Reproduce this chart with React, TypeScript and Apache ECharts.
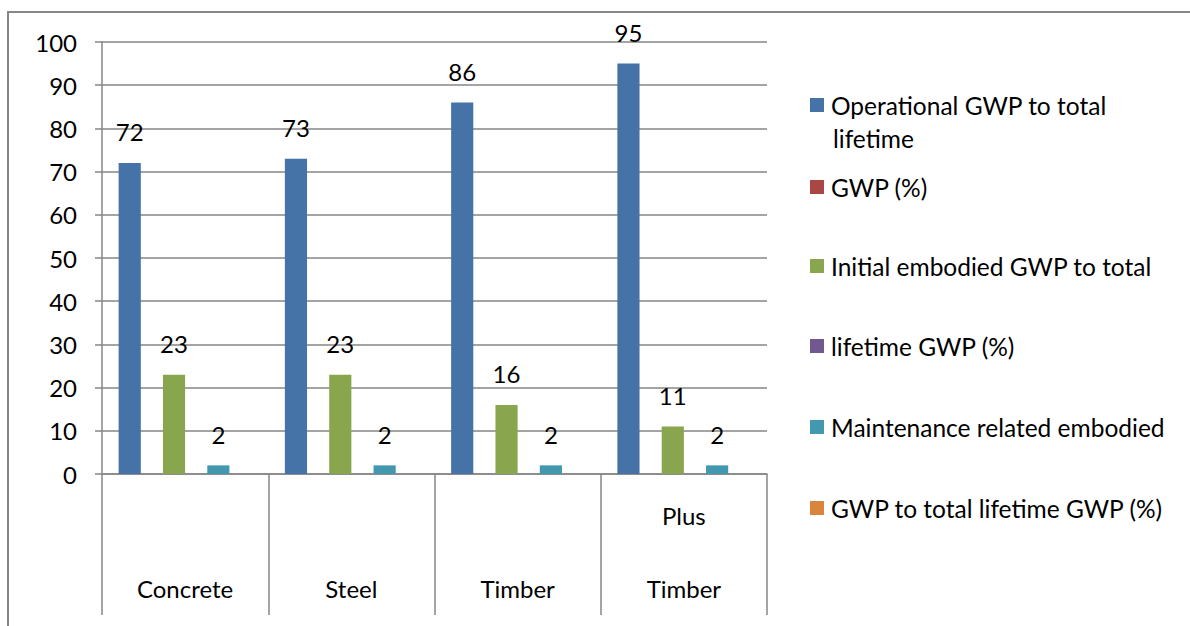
import React, { useEffect, useRef } from "react";
import * as echarts from "echarts";

const topLabels = ["", "", "", "Plus"];
const bottomLabels = ["Concrete", "Steel", "Timber", "Timber"];
const categories = topLabels.map((t, i) => t + "\n" + bottomLabels[i]);

const seriesNames = [
  "Operational GWP to total lifetime",
  "GWP (%)",
  "Initial embodied GWP to total",
  "lifetime GWP (%)",
  "Maintenance related embodied",
  "GWP to total lifetime GWP (%)",
];
const operational = [72, 73, 86, 95];
const gwpPct = [null, null, null, null];
const initialEmbodied = [23, 23, 16, 11];
const lifetimePct = [null, null, null, null];
const maintenance = [2, 2, 2, 2];
const gwpTotalPct = [null, null, null, null];
const seriesValues = [operational, gwpPct, initialEmbodied, lifetimePct, maintenance, gwpTotalPct];
const colors = ["#4572A7", "#AA4643", "#89A54E", "#71588F", "#4198AF", "#DB843D"];
const yTicks = [0, 10, 20, 30, 40, 50, 60, 70, 80, 90, 100];

const FONT = "Lato";
const FS = 24;
const LFS = 24.5;
const GRAY = "#868686";
const legendCenters = [105, 187, 266, 346, 427, 508];

export default function App() {
  const ref = useRef<HTMLDivElement>(null);
  useEffect(() => {
    const chart = echarts.init(ref.current!, null, { renderer: "svg" });
    const legends = seriesNames.map((n, i) => ({
      orient: "vertical",
      left: 810,
      top: legendCenters[i] - 14,
      padding: 0,
      itemWidth: 14,
      itemHeight: 14,
      icon: "rect",
      selectedMode: false,
      data: [n],
      formatter: (name: string) => (name === seriesNames[0] ? "Operational GWP to total" : name),
      textStyle: { fontFamily: FONT, fontSize: LFS, color: "#000", lineHeight: 28, padding: [0, 0, 0, 2] },
    }));
    chart.setOption({
      animation: false,
      textStyle: { fontFamily: FONT },
      color: colors,
      grid: { left: 102, right: 423, top: 42, bottom: 152, containLabel: false },
      legend: legends,
      graphic: [
        {
          type: "rect",
          shape: { x: 8, y: 12, width: 1300, height: 800 },
          style: { fill: "none", stroke: GRAY, lineWidth: 2 },
          silent: true,
        },
        {
          type: "text",
          left: 833,
          top: 138 - 14,
          style: { text: "lifetime", font: `${LFS}px ${FONT}`, fill: "#000", lineHeight: 28 },
        },
      ],
      xAxis: {
        type: "category",
        data: categories,
        boundaryGap: true,
        axisLine: { show: true, lineStyle: { color: GRAY, width: 1.5 } },
        axisTick: { show: true, length: 141, lineStyle: { color: GRAY, width: 1.5 } },
        axisLabel: {
          color: "#000",
          fontFamily: FONT,
          fontSize: FS,
          lineHeight: 73,
          margin: 5,
          interval: 0,
        },
      },
      yAxis: {
        type: "value",
        min: 0,
        max: 100,
        interval: 10,
        axisLine: { show: true, lineStyle: { color: GRAY, width: 1.5 } },
        axisTick: { show: true, length: 7, lineStyle: { color: GRAY, width: 1.5 } },
        splitLine: { show: true, lineStyle: { color: GRAY, width: 1.5 } },
        axisLabel: {
          color: "#000",
          fontFamily: FONT,
          fontSize: FS,
          margin: 25,
          formatter: (v: number) => (yTicks.includes(v) ? String(v) : ""),
        },
      },
      series: seriesNames.map((n, i) => ({
        name: n,
        type: "bar",
        data: seriesValues[i],
        barGap: "0%",
        barCategoryGap: "20%",
        itemStyle: { color: colors[i] },
        label: {
          show: true,
          position: "top",
          distance: 19,
          color: "#000",
          fontFamily: FONT,
          fontSize: FS,
          lineHeight: 24,
        },
      })),
    });
    return () => chart.dispose();
  }, []);
  return (
    <div
      ref={ref}
      style={{ position: "absolute", left: 0, top: 0, width: 1190, height: 626, background: "#fff" }}
    />
  );
}
